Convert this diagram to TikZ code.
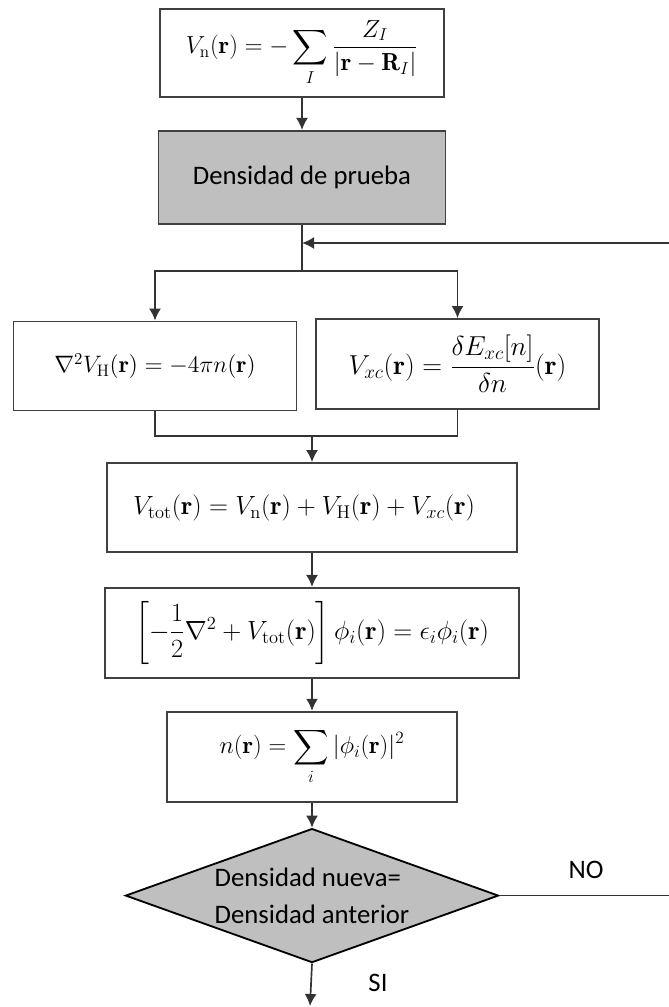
\RequirePackage{fix-cm}
\documentclass[tikz,border=0pt]{standalone}
\usepackage{amsmath,amssymb}
\usepackage{fontspec}
\newfontfamily\labelfont{Carlito}
\usepackage{tikz}
\usetikzlibrary{positioning,arrows.meta,shapes.geometric,calc}

\begin{document}
\begin{tikzpicture}[
  x=0.025cm, y=-0.025cm,
  font=\fontsize{18.7}{22}\selectfont,
  box/.style={rectangle, draw=black!75, line width=1.3pt, fill=white,
              inner sep=0pt, align=center},
  shaded/.style={box, fill=gray!50, font=\labelfont\fontsize{19}{23}\selectfont},
  decision/.style={diamond, draw=black, line width=1.3pt, fill=gray!50,
                   inner sep=0pt, align=left, aspect=2.78,
                   font=\labelfont\fontsize{19}{26}\selectfont},
  tag/.style={font=\labelfont\fontsize{19}{23}\selectfont},
  flow/.style={-{Latex[length=3mm,width=3mm]}, line width=1.2pt, draw=black!80},
  link/.style={line width=1.2pt, draw=black!80}
]
\useasboundingbox (0,0) rectangle (669,1007);

% Nuclear potential and trial density
\node[box, minimum width=7.1cm, minimum height=2.2cm, font=\fontsize{17.5}{21}\selectfont]
  at (302,53) (vn)
  {$V_{\mathrm{n}}(\mathbf{r}) = -\displaystyle\sum_{I} \frac{Z_I}{|\mathbf{r}-\mathbf{R}_I|}$};
\node[shaded, minimum width=7.175cm, minimum height=2.325cm, below=0.8cm of vn] (prueba)
  {Densidad de prueba};

% Hartree and exchange-correlation side by side
\node[box, minimum width=7.075cm, minimum height=2.225cm, font=\fontsize{16.9}{20}\selectfont]
  at (155,366) (hart)
  {$\nabla^2 V_{\mathrm{H}}(\mathbf{r}) = -4\pi n(\mathbf{r})$};
\node[box, minimum width=7.075cm, minimum height=2.25cm, font=\fontsize{19.5}{23}\selectfont]
  at (457.5,364) (xc)
  {$V_{xc}(\mathbf{r}) = \dfrac{\delta E_{xc}[n]}{\delta n}(\mathbf{r})$};

% Total potential, Kohn-Sham equation, new density
\node[box, minimum width=10.25cm, minimum height=2.225cm] at (312,507.5) (vtot)
  {$V_{\mathrm{tot}}(\mathbf{r}) = V_{\mathrm{n}}(\mathbf{r}) + V_{\mathrm{H}}(\mathbf{r}) + V_{xc}(\mathbf{r})$\hspace*{4mm}};
\node[box, minimum width=10.35cm, minimum height=2.25cm, below=0.85cm of vtot] (ks)
  {$\left[-\dfrac{1}{2}\nabla^2 + V_{\mathrm{tot}}(\mathbf{r})\right]\phi_i(\mathbf{r}) = \epsilon_i\phi_i(\mathbf{r})$};
\node[box, minimum width=7.25cm, minimum height=2.25cm, below=0.8cm of ks,
      font=\fontsize{17.5}{21}\selectfont] (nden)
  {$n(\mathbf{r}) = \displaystyle\sum_i |\phi_i(\mathbf{r})|^2$};

% Convergence test
\node[decision, minimum width=9.325cm, minimum height=3.35cm, below=0.625cm of nden] (dec)
  {Densidad nueva=\\Densidad anterior};
\node[tag] at (586,870) (no) {NO};
\node[tag] at (378,983) (si) {SI};

% Junctions
\coordinate (fb) at (302,243);
\coordinate (split) at (302,271);
\coordinate (merge) at (312,436);
\coordinate (rt) at (670,243);
\coordinate (out) at (310,1006);

% Flow arrows
\draw[flow] (vn)--(prueba);
\draw[link] (prueba.south)--(split);
\draw[flow] (split) -| (hart.north);
\draw[flow] (split) -| (xc.north);
\draw[link] (hart.south) |- (merge) -| (xc.south);
\draw[flow] (merge)--(vtot.north);
\draw[flow] (vtot)--(ks);
\draw[flow] (ks)--(nden);
\draw[flow] (nden)--(dec);
\draw[flow] (dec.south)--(out);

% Feedback loop
\draw[flow] (dec.east) -- (dec.east -| rt) -- (rt) -- (fb);

\end{tikzpicture}
\end{document}
